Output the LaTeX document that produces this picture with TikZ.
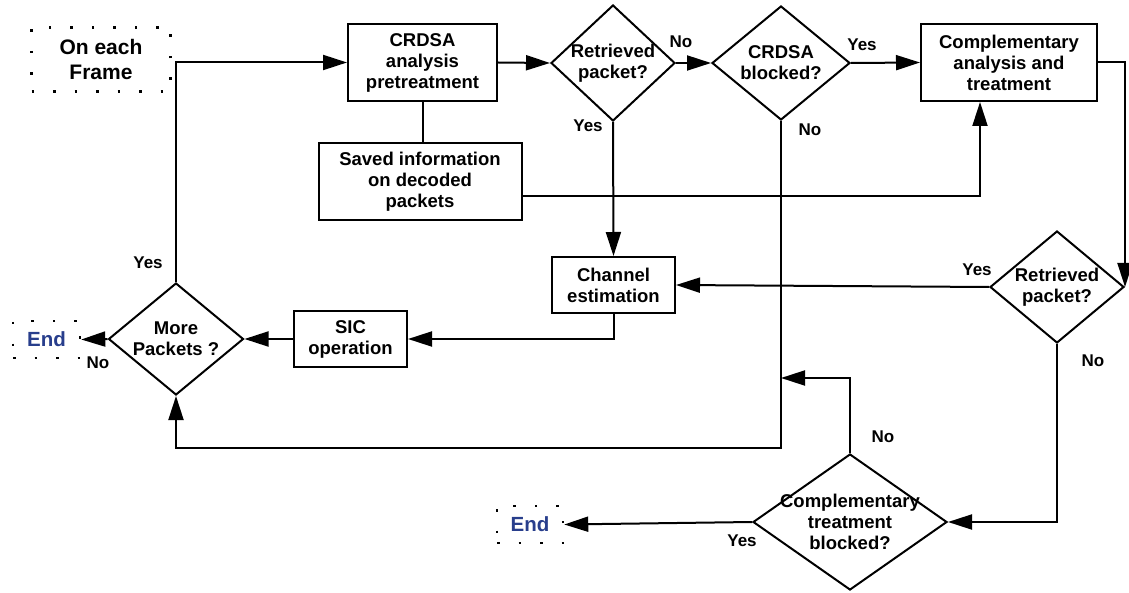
\documentclass[tikz,border=0pt]{standalone}
\usepackage{fontspec}
\setmainfont{Liberation Sans}
\usetikzlibrary{shapes.geometric,arrows.meta}
\definecolor{endblue}{RGB}{40,62,140}

\begin{document}
\begin{tikzpicture}[x=1pt,y=-1pt,line width=2pt,
  >={Triangle[length=24pt,width=15pt]},
  every node/.style={font=\bfseries\fontsize{18.5}{21}\selectfont,align=center,inner sep=0pt},
  Box/.style={draw,rectangle},
  Test/.style={draw,diamond,inner sep=-20pt},
  Dots/.style={draw,dash pattern=on 2.5pt off 19pt,line width=2.5pt},
  Answer/.style={font=\bfseries\fontsize{17}{20}\selectfont}]
\useasboundingbox (0,0) rectangle (1129,593);
% start and end marks
\node[Dots,minimum width=139pt,minimum height=64pt,font=\bfseries\fontsize{21}{25}\selectfont] (F) at (101,59.5) {On each\\Frame};
\node[Dots,minimum width=67pt,minimum height=37pt,text=endblue,font=\bfseries\fontsize{20.5}{24}\selectfont] (E1) at (46.5,339.5) {End};
\node[Dots,minimum width=66pt,minimum height=37pt,text=endblue,font=\bfseries\fontsize{20.5}{24}\selectfont] (E2) at (530,524.5) {End};
% processing boxes
\node[Box,minimum width=149pt,minimum height=77pt] (P1) at (422.5,62.5) {CRDSA\\analysis\\pretreatment};
\node[Box,minimum width=203pt,minimum height=77pt] (P2) at (420,181.5) {Saved information\\on decoded\\packets};
\node[Box,minimum width=176pt,minimum height=77pt] (P3) at (1009,62.5) {Complementary\\analysis and\\treatment};
\node[Box,minimum width=123pt,minimum height=56pt] (P4) at (613.5,285) {Channel\\estimation};
\node[Box,minimum width=113pt,minimum height=56pt] (P5) at (350.5,339) {SIC\\operation};
% decisions
\node[Test,minimum width=124pt,minimum height=116pt] (D1) at (613,63) {Retrieved\\packet?};
\node[Test,minimum width=138pt,minimum height=114pt] (D2) at (781,63) {CRDSA\\blocked?};
\node[Test,minimum width=134pt,minimum height=112pt] (D3) at (1057,287) {Retrieved\\packet?};
\node[Test,minimum width=135pt,minimum height=112pt] (D4) at (176,339) {More\\Packets ?};
\node[Test,minimum width=194pt,minimum height=136pt] (D5) at (850,522) {Complementary\\treatment\\blocked?};
\coordinate (J1) at (781,378);
\coordinate (J2) at (176,448);
%%%%%%%%%%%%%%%%%%%%%%%%%%%%%%
\draw[->] (D4.north) |- (P1.west);
\draw[->] (P1.east) -- (D1.west);
\draw[->] (D1.east) -- (D2.west);
\draw[->] (D2.east) -- (P3.west);
\draw (P1.south) -- (P1.south |- P2.north);
\draw[->] ([yshift=-15pt]P2.east) -| ([xshift=-29pt]P3.south);
\draw[->] (P3.east) -| (D3.east);
\draw[->] (D1.south) -- (P4.north);
\draw[->] (D3.west) -- (P4.east);
\draw[->] (P4.south) |- (P5.east);
\draw[->] (P5.west) -- (D4.east);
\draw[->] (D4.west) -- (E1.east);
\draw[->] (D3.south) |- (D5.east);
\draw[->] (D5.west) -- (E2.east);
\draw[->] (D5.north) |- (J1);
\draw[->] (D2.south) |- (J2) -- (D4.south);
% answers
\node[Answer] (A1) at (681,42) {No};
\node[Answer] (A2) at (862,45) {Yes};
\node[Answer] (A3) at (588,126) {Yes};
\node[Answer] (A4) at (810,130) {No};
\node[Answer] (A5) at (977,270) {Yes};
\node[Answer] (A6) at (1093,361) {No};
\node[Answer] (A7) at (883,437) {No};
\node[Answer] (A8) at (742,541) {Yes};
\node[Answer] (A9) at (148,263) {Yes};
\node[Answer] (A10) at (98,363) {No};
\end{tikzpicture}
\end{document}
